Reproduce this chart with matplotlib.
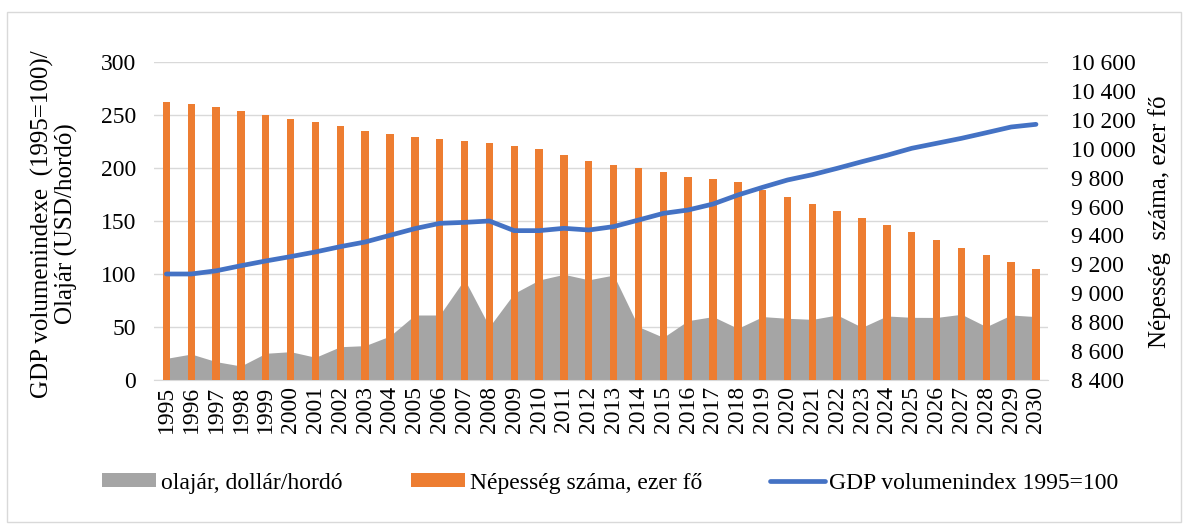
import matplotlib
matplotlib.use("Agg")
import matplotlib.pyplot as plt
from matplotlib.patches import Rectangle
from matplotlib.ticker import FuncFormatter

plt.rcParams['font.family'] = ['Liberation Serif', 'DejaVu Serif']

years = list(range(1995, 2031))
# oil price, USD/barrel (left axis)
oil = [20.4, 24.5, 17.3, 13.2, 25.2, 26.7, 21.4, 31.4, 32.4, 41.5, 61.3, 61.3,
       95.0, 50.3, 81.8, 94.3, 99.7, 94.5, 99.0, 50.3, 40.2, 56.0, 59.8, 48.7,
       59.8, 58.2, 57.2, 61.3, 49.7, 60.4, 59.1, 59.0, 62.0, 50.3, 61.3, 59.8]
# population, thousand persons (right axis)
population = [10321, 10307, 10286, 10263, 10235, 10208, 10187, 10157, 10125, 10104,
              10083, 10068, 10051, 10037, 10019, 9999, 9959, 9918, 9889, 9864,
              9841, 9807, 9788, 9770, 9713, 9664, 9615, 9569, 9520, 9470,
              9426, 9366, 9315, 9267, 9214, 9166]
# GDP volume index 1995=100 (left axis)
gdp = [100.0, 100.0, 103.0, 107.8, 112.3, 116.4, 120.8, 125.8, 130.2, 136.5,
       142.8, 147.8, 148.7, 150.0, 140.9, 140.9, 143.1, 141.5, 144.7, 150.9,
       157.2, 160.4, 166.0, 174.5, 181.8, 188.7, 193.7, 199.7, 206.0, 212.0,
       218.6, 223.3, 228.0, 233.3, 238.7, 241.2]

left_ticks = [0, 50, 100, 150, 200, 250, 300]
right_ticks = list(range(8400, 10601, 200))

C_ORANGE = '#ED7D31'
C_GRAY = '#A5A5A5'
C_BLUE = '#4472C4'
FS = 17
FS_LAB = 18

fig = plt.figure(figsize=(11.88, 5.26), dpi=100)
ax = fig.add_axes([0.1296, 0.2776, 0.8825 - 0.1296, 0.8821 - 0.2776])
ax2 = ax.twinx()
ax3 = ax.twinx()

# oil area (left scale)
ax.fill_between(years, 0, oil, color=C_GRAY, linewidth=0, label='olajár, dollár/hordó')
ax.set_ylim(0, 300)
ax.set_yticks(left_ticks)
ax.set_xlim(1994.5, 2030.5)
ax.grid(axis='y', color='#D9D9D9', linewidth=1)
ax.set_axisbelow(True)
for s in ['top', 'right', 'left']:
    ax.spines[s].set_visible(False)
ax.spines['bottom'].set_color('#D9D9D9')
ax.tick_params(axis='both', length=0, labelsize=FS, colors='black')
ax.tick_params(axis='y', pad=13)
ax.set_xticks(years)
ax.set_xticklabels([str(y) for y in years], rotation=90)
ax.tick_params(axis='x', pad=4)

# population bars (right scale)
ax2.bar(years, population, width=0.3, color=C_ORANGE, label='Népesség száma, ezer fő')
ax2.set_ylim(8400, 10600)
ax2.set_yticks(right_ticks)
ax2.yaxis.set_major_formatter(FuncFormatter(lambda v, p: f"{int(v):,}".replace(",", " ")))
ax2.tick_params(axis='y', length=0, labelsize=FS, pad=16)
for s in ax2.spines.values():
    s.set_visible(False)

# GDP line (left scale)
ax3.plot(years, gdp, color=C_BLUE, linewidth=3.4, solid_capstyle='round',
         label='GDP volumenindex 1995=100')
ax3.set_ylim(0, 300)
ax3.set_yticks([])
for s in ax3.spines.values():
    s.set_visible(False)

fig.text(54 / 1188, 1 - 224 / 526, 'GDP volumenindexe  (1995=100)/\nOlajár (USD/hordó)',
         rotation=90, ha='center', va='center', multialignment='center',
         fontsize=FS_LAB, linespacing=1.05)
fig.text(1160 / 1188, 1 - 222 / 526, 'Népesség  száma, ezer fő', rotation=90,
         ha='center', va='center', fontsize=FS_LAB)

h1, l1 = ax.get_legend_handles_labels()
h2, l2 = ax2.get_legend_handles_labels()
h3, l3 = ax3.get_legend_handles_labels()
fig.legend(h1 + h2 + h3, l1 + l2 + l3, loc='center', bbox_to_anchor=(0.5135, 0.0817),
           ncol=3, frameon=False, fontsize=FS, handlelength=2.3, handletextpad=0.2,
           columnspacing=2.9, handleheight=0.5)

fig.patches.append(Rectangle((0.006, 0.008), 0.988, 0.97, transform=fig.transFigure,
                             fill=False, edgecolor='#D9D9D9', linewidth=1))

fig.savefig('out.png', dpi=100)
